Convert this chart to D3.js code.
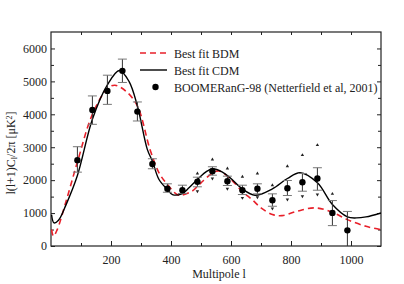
<!DOCTYPE html>
<html>
<head>
<meta charset="utf-8" />
<script src="https://cdn.jsdelivr.net/npm/d3@7"></script>
<style>
    body { margin: 0; background: #fff; }
    text { font-family: "Liberation Serif", "DejaVu Serif", serif; fill: #222; }
</style>
</head>
<body>
<script>

    // BOOMERanG-98 band powers
    let multipoles = [88, 138, 188, 238, 288, 338, 388, 438, 488, 538, 588, 638, 688, 738, 788, 838, 888, 938, 988];
    let power = [2608, 4132, 4711, 5320, 4083, 2490, 1740, 1694, 1950, 2273, 1968, 1694, 1737, 1389, 1755, 1938, 2050, 1005, 475];
    let errHigh = [3016, 4558, 5188, 5677, 4375, 2650, 1889, 1847, 2090, 2407, 2121, 1847, 1889, 1584, 1990, 2203, 2377, 1380, 1050];
    let errLow = [2243, 3696, 4302, 4967, 3797, 2346, 1633, 1594, 1798, 2151, 1837, 1563, 1584, 1207, 1533, 1664, 1694, 619, 0];
    // outer limits (small triangles), null where they hide behind the caps
    let limHigh = [null, null, null, null, null, null, null, null, 2203, 2630, 2355, 2102, 2203, 1847, 2425, 2760, 3065, 1584, null];
    let limLow = [null, null, null, null, null, null, null, null, 1664, 2050, 1740, 1462, 1481, 1137, 1411, 1511, 1563, null, null];

    // best fit CDM curve
    let cdmL = [2, 10, 25, 50, 88, 138, 188, 228, 260, 288, 321, 338, 360, 388, 405, 438, 460, 488, 520, 540, 570, 597, 637, 680, 738, 788, 830, 888, 938, 988, 1018, 1050, 1100];
    let cdmV = [950, 700, 780, 1250, 2140, 3850, 4893, 5330, 5000, 4254, 2934, 2578, 2020, 1715, 1563, 1594, 1767, 2020, 2273, 2346, 2250, 2072, 1737, 1542, 1737, 2050, 2224, 1920, 1258, 884, 853, 884, 1005];

    // best fit BDM curve
    let bdmL = [2, 8, 20, 50, 88, 138, 188, 213, 250, 288, 330, 360, 388, 420, 432, 470, 500, 540, 560, 597, 637, 670, 700, 738, 770, 820, 880, 938, 988, 1050, 1100];
    let bdmV = [500, 300, 480, 1350, 2550, 4000, 4783, 4884, 4700, 4254, 2934, 2224, 1868, 1563, 1542, 1664, 1920, 2224, 2280, 2050, 1664, 1411, 1158, 954, 923, 1054, 1158, 1024, 801, 597, 497];

    let xTicks = [200, 400, 600, 800, 1000];
    let yTicks = [0, 1000, 2000, 3000, 4000, 5000, 6000];

    let margin = { top: 32, left: 51 };
    let width = 330, height = 214;

    let svg = d3.select('body').append('svg')
        .attr('width', 404)
        .attr('height', 284);

    let g = svg.append('g')
        .attr('transform', `translate(${margin.left},${margin.top})`);

    let x = d3.scaleLinear().domain([0, 1100]).range([0, width]);
    let y = d3.scaleLinear().domain([0, 6500]).range([height, 0]);

    // clip for curves
    svg.append('defs').append('clipPath').attr('id', 'plot')
        .append('rect').attr('width', width).attr('height', height);

    // axes with inward ticks, mirrored on top and right
    let minorX = d3.range(100, 1100, 100).filter(d => !xTicks.includes(d));
    let minorY = d3.range(500, 6500, 500).filter(d => !yTicks.includes(d));

    function styleAxis(sel) {
        sel.attr('font-family', null);
        sel.select('.domain').remove();
        sel.selectAll('line').attr('stroke', '#222');
        sel.selectAll('text')
            .style('font-family', '"Liberation Serif", serif')
            .style('font-size', '12px')
            .attr('fill', '#222');
    }

    g.append('g').attr('transform', `translate(0,${height})`)
        .call(d3.axisBottom(x).tickValues(xTicks).tickFormat(d3.format('d')).tickSizeInner(-5).tickSizeOuter(0).tickPadding(9))
        .call(styleAxis);
    g.append('g').attr('transform', `translate(0,${height})`)
        .call(d3.axisBottom(x).tickValues(minorX).tickSizeInner(-3).tickSizeOuter(0).tickFormat(''))
        .call(styleAxis);
    g.append('g')
        .call(d3.axisTop(x).tickValues(d3.range(100, 1100, 100)).tickSizeInner(-3).tickSizeOuter(0).tickFormat(''))
        .call(styleAxis);

    g.append('g')
        .call(d3.axisLeft(y).tickValues(yTicks).tickFormat(d3.format('d')).tickSizeInner(-4).tickSizeOuter(0).tickPadding(4))
        .call(styleAxis);
    g.append('g')
        .call(d3.axisLeft(y).tickValues(minorY).tickSizeInner(-3).tickSizeOuter(0).tickFormat(''))
        .call(styleAxis);
    g.append('g').attr('transform', `translate(${width},0)`)
        .call(d3.axisRight(y).tickValues(yTicks).tickSizeInner(-4).tickSizeOuter(0).tickFormat(''))
        .call(styleAxis);
    g.append('g').attr('transform', `translate(${width},0)`)
        .call(d3.axisRight(y).tickValues(minorY).tickSizeInner(-3).tickSizeOuter(0).tickFormat(''))
        .call(styleAxis);

    // frame
    g.append('rect')
        .attr('width', width).attr('height', height)
        .attr('fill', 'none').attr('stroke', '#222').attr('stroke-width', 1.2);

    let line = d3.line()
        .x(d => x(d[0]))
        .y(d => y(d[1]))
        .curve(d3.curveCatmullRom.alpha(0.5));

    let curves = g.append('g').attr('clip-path', 'url(#plot)');

    curves.append('path')
        .datum(d3.zip(bdmL, bdmV))
        .attr('d', line)
        .attr('fill', 'none')
        .attr('stroke', '#e8202a')
        .attr('stroke-width', 1.6)
        .attr('stroke-dasharray', '6,4');

    curves.append('path')
        .datum(d3.zip(cdmL, cdmV))
        .attr('d', line)
        .attr('fill', 'none')
        .attr('stroke', '#000')
        .attr('stroke-width', 1.4);

    // data points
    let pts = multipoles.map((l, i) => ({
        l: l, v: power[i], hi: errHigh[i], lo: errLow[i], uh: limHigh[i], ul: limLow[i]
    }));

    let pt = g.selectAll('.pt').data(pts).enter().append('g').attr('class', 'pt');

    pt.append('line')
        .attr('x1', d => x(d.l)).attr('x2', d => x(d.l))
        .attr('y1', d => y(d.hi)).attr('y2', d => y(d.lo))
        .attr('stroke', '#333').attr('stroke-width', 1);
    pt.append('line')
        .attr('x1', d => x(d.l) - 4.5).attr('x2', d => x(d.l) + 4.5)
        .attr('y1', d => y(d.hi)).attr('y2', d => y(d.hi))
        .attr('stroke', '#777').attr('stroke-width', 1);
    pt.filter(d => d.lo > 0).append('line')
        .attr('x1', d => x(d.l) - 4.5).attr('x2', d => x(d.l) + 4.5)
        .attr('y1', d => y(d.lo)).attr('y2', d => y(d.lo))
        .attr('stroke', '#777').attr('stroke-width', 1);

    let tri = d3.symbol().type(d3.symbolTriangle).size(5);
    pt.filter(d => d.uh != null).append('path')
        .attr('d', tri)
        .attr('transform', d => `translate(${x(d.l)},${y(d.uh)})`)
        .attr('fill', '#222');
    pt.filter(d => d.ul != null).append('path')
        .attr('d', tri)
        .attr('transform', d => `translate(${x(d.l)},${y(d.ul)}) rotate(180)`)
        .attr('fill', '#222');

    pt.append('circle')
        .attr('cx', d => x(d.l)).attr('cy', d => y(d.v))
        .attr('r', 3.2)
        .attr('fill', '#000');

    // legend
    let legend = svg.append('g').attr('transform', 'translate(140,53)');
    legend.append('line')
        .attr('x1', 0).attr('x2', 27).attr('y1', 0).attr('y2', 0)
        .attr('stroke', '#e8202a').attr('stroke-width', 1.6).attr('stroke-dasharray', '6,4');
    legend.append('text').attr('x', 34).attr('y', 4.5).style('font-size', '12px').text('Best fit BDM');
    legend.append('line')
        .attr('x1', 0).attr('x2', 27).attr('y1', 17).attr('y2', 17)
        .attr('stroke', '#000').attr('stroke-width', 1.4);
    legend.append('text').attr('x', 34).attr('y', 21.5).style('font-size', '12px').text('Best fit CDM');
    legend.append('circle').attr('cx', 15.5).attr('cy', 34).attr('r', 3.2).attr('fill', '#000');
    legend.append('text').attr('x', 34).attr('y', 38.5).style('font-size', '12px')
        .text('BOOMERanG-98 (Netterfield et al, 2001)');

    // axis titles
    svg.append('text')
        .attr('x', margin.left + width / 2 + 3)
        .attr('y', 278)
        .attr('text-anchor', 'middle')
        .style('font-size', '12px')
        .text('Multipole l');

    let yl = svg.append('text')
        .attr('transform', 'translate(15,153) rotate(-90)')
        .attr('text-anchor', 'middle')
        .style('font-size', '12px');
    yl.append('tspan').text('l(l+1)C');
    yl.append('tspan').attr('baseline-shift', '-25%').style('font-size', '8px').text('l');
    yl.append('tspan').text('/2\u03c0 [\u03bcK');
    yl.append('tspan').attr('baseline-shift', '40%').style('font-size', '8px').text('2');
    yl.append('tspan').text(']');

</script>
</body>
</html>
